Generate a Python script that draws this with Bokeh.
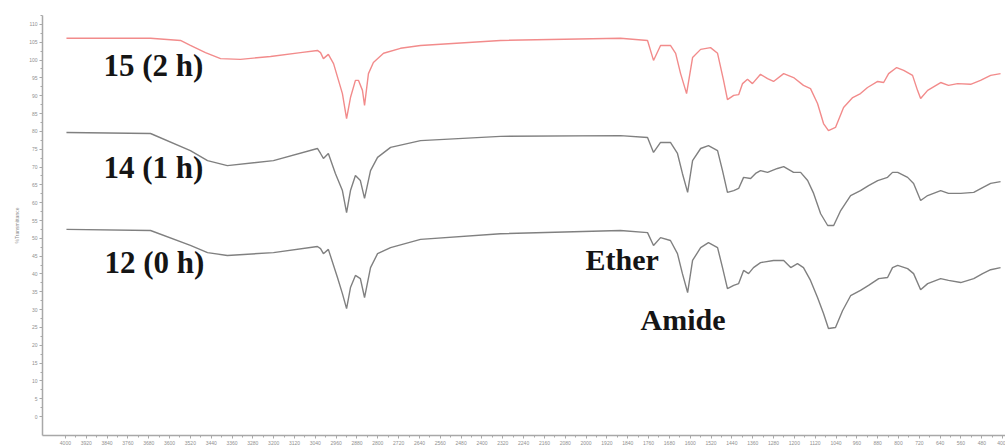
from bokeh.plotting import figure
from bokeh.models import Range1d, FixedTicker, Label
from bokeh.embed import file_html
from bokeh.resources import INLINE

# wavenumber (cm-1) and %T for each spectrum
wn_15 = [3996, 3673, 3558, 3520, 3462, 3404, 3328, 3212, 3097, 3032, 3020, 3009, 2990, 2970, 2951,
         2936, 2920, 2905, 2886, 2874, 2859, 2851, 2836, 2817, 2778, 2713, 2636, 2329, 1868, 1764,
         1741, 1714, 1676, 1656, 1637, 1614, 1591, 1560, 1522, 1495, 1472, 1457, 1433, 1414, 1399,
         1380, 1361, 1330, 1303, 1280, 1241, 1203, 1165, 1138, 1111, 1088, 1069, 1042, 1011, 976,
         946, 919, 880, 857, 838, 807, 780, 746, 727, 715, 688, 638, 608, 573, 523, 485, 446, 408]
t_15 = [106.1, 106.1, 105.5, 104.1, 102.1, 100.4, 100.2, 101.0, 102.1, 102.7, 102.1, 100.4, 101.6, 99.0, 94.3,
        90.6, 83.6, 89.5, 94.3, 94.3, 91.5, 87.3, 96.2, 99.3, 101.9, 103.3, 104.1, 105.5, 106.1, 105.5,
        99.9, 104.1, 104.1, 101.9, 96.2, 90.6, 100.7, 103.0, 103.5, 101.9, 94.3, 88.9, 90.1, 90.3, 93.4,
        94.6, 93.4, 96.0, 94.8, 94.0, 96.2, 95.1, 92.9, 92.0, 87.8, 82.2, 80.2, 81.1, 86.7, 89.5,
        90.6, 92.3, 94.0, 93.7, 96.2, 97.9, 97.1, 95.7, 91.5, 89.2, 91.5, 93.7, 92.9, 93.4, 93.2, 94.3, 95.7, 96.2]

wn_14 = [3996, 3673, 3520, 3454, 3378, 3201, 3032, 3020, 3009, 2990, 2963, 2936, 2920, 2905, 2886,
         2867, 2851, 2828, 2801, 2751, 2636, 2329, 1868, 1764, 1741, 1714, 1676, 1649, 1630, 1610,
         1591, 1560, 1530, 1495, 1476, 1457, 1433, 1414, 1395, 1368, 1349, 1330, 1303, 1265, 1241,
         1203, 1176, 1149, 1126, 1099, 1072, 1049, 1022, 984, 946, 915, 880, 842, 823, 803,
         765, 742, 715, 688, 638, 608, 561, 511, 477, 446, 408]
t_14 = [79.7, 79.4, 74.6, 71.8, 70.4, 71.8, 75.2, 73.8, 72.4, 73.8, 68.2, 63.4, 57.2, 63.4, 67.6,
        66.2, 61.2, 69.0, 72.7, 75.5, 77.4, 78.6, 78.8, 78.3, 74.1, 76.9, 76.9, 73.8, 68.2, 62.9,
        71.8, 75.2, 76.0, 74.6, 69.0, 62.9, 63.4, 64.0, 67.1, 66.8, 68.2, 69.0, 68.5, 69.6, 70.1,
        68.5, 68.5, 66.2, 62.6, 56.9, 53.6, 53.6, 57.8, 62.0, 63.4, 64.8, 66.2, 67.1, 68.5, 68.5,
        67.1, 65.4, 60.6, 62.0, 63.4, 62.6, 62.6, 62.9, 64.2, 65.4, 65.9]

wn_12 = [3996, 3673, 3520, 3454, 3378, 3201, 3032, 3020, 3009, 2990, 2955, 2936, 2920, 2905, 2886,
         2867, 2851, 2828, 2801, 2751, 2636, 2329, 1868, 1764, 1741, 1714, 1676, 1649, 1630, 1610,
         1591, 1560, 1530, 1495, 1476, 1457, 1433, 1414, 1395, 1376, 1357, 1330, 1280, 1241, 1214,
         1188, 1165, 1138, 1111, 1088, 1069, 1042, 1015, 984, 946, 915, 876, 842, 823, 803,
         765, 742, 715, 688, 638, 608, 561, 511, 477, 446, 408]
t_12 = [52.5, 52.2, 48.0, 46.0, 45.2, 46.0, 47.7, 47.1, 45.7, 46.9, 39.0, 34.5, 30.3, 36.2, 39.6,
        38.7, 33.4, 41.8, 45.7, 47.4, 49.7, 51.3, 52.2, 51.6, 48.0, 50.2, 49.4, 45.7, 40.1, 34.8,
        43.8, 47.4, 48.8, 47.4, 41.8, 35.9, 36.8, 37.3, 41.0, 40.1, 41.8, 43.2, 43.8, 43.8, 41.8,
        42.9, 41.8, 38.2, 33.4, 28.9, 24.7, 25.0, 29.7, 33.9, 35.4, 36.8, 38.7, 39.0, 41.8, 42.4,
        41.5, 40.1, 35.6, 37.3, 38.7, 38.2, 37.6, 38.7, 40.1, 41.2, 41.8]

x_ticks = list(range(4000, 399, -80))
y_ticks = list(range(0, 111, 5))

series_labels = ["15 (2 h)", "14 (1 h)", "12 (0 h)"]
label_pos = [(3854, 98.4), (3854, 69.8), (3850, 43.2)]
band_labels = ["Ether", "Amide"]
band_pos = [(2002, 44.0), (1791, 27.3)]

p = figure(width=1005, height=447, output_backend="svg", toolbar_location=None,
           x_range=Range1d(4088, 389), y_range=Range1d(-5.3, 112.5),
           min_border_left=42, min_border_right=0, min_border_top=15, min_border_bottom=12)
p.outline_line_color = None
p.xgrid.visible = False
p.ygrid.visible = False

p.line(wn_15, t_15, line_color="#f28b8b", line_width=1.4)
p.line(wn_14, t_14, line_color="#808080", line_width=1.4)
p.line(wn_12, t_12, line_color="#808080", line_width=1.4)

for ax in (p.xaxis[0], p.yaxis[0]):
    ax.axis_line_color = "#a8a8a8"
    ax.axis_line_width = 1.5
    ax.major_tick_line_color = "#a8a8a8"
    ax.minor_tick_line_color = "#a8a8a8"
    ax.major_label_text_color = "#909090"
    ax.major_label_text_font_size = "5px"
    ax.major_tick_out = 3
    ax.major_tick_in = 0
    ax.minor_tick_out = 2
    ax.minor_tick_in = 0
    ax.major_label_standoff = 2

p.xaxis.ticker = FixedTicker(ticks=x_ticks, minor_ticks=[t - 40 for t in x_ticks])
p.yaxis.ticker = FixedTicker(ticks=y_ticks, minor_ticks=[t + 2.5 for t in y_ticks])
p.yaxis.axis_label = "%Transmittance"
p.yaxis.axis_label_text_font_size = "5px"
p.yaxis.axis_label_text_color = "#909090"
p.yaxis.axis_label_text_font_style = "normal"
p.yaxis.axis_label_standoff = 6

for txt, (x, y) in zip(series_labels, label_pos):
    p.add_layout(Label(x=x, y=y, text=txt, text_font="Liberation Serif", text_font_style="bold",
                       text_font_size="31px", text_color="#151515", text_baseline="alphabetic"))
for txt, (x, y) in zip(band_labels, band_pos):
    p.add_layout(Label(x=x, y=y, text=txt, text_font="Liberation Serif", text_font_style="bold",
                       text_font_size="30px", text_color="#151515", text_baseline="alphabetic"))

open("out.html", "w").write(file_html(p, INLINE))
